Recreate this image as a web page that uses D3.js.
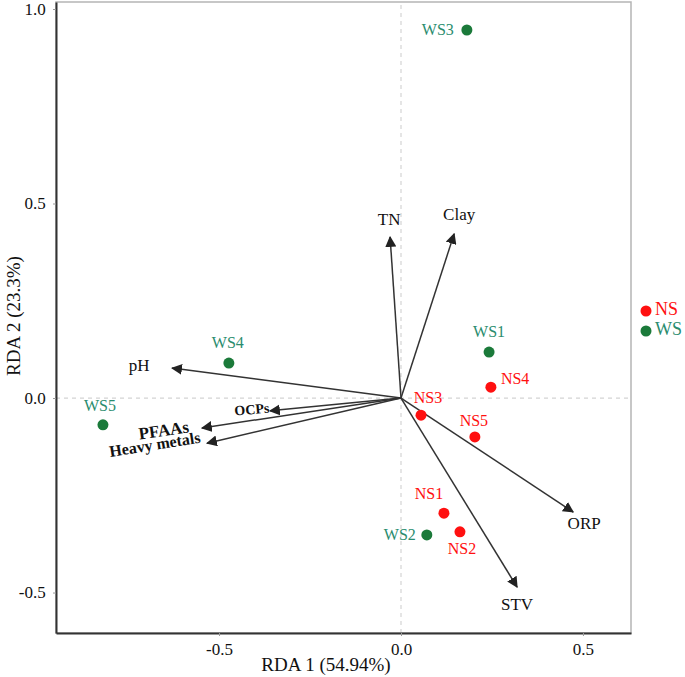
<!DOCTYPE html>
<html><head><meta charset="utf-8">
<script src="https://cdn.jsdelivr.net/npm/d3@7"></script>
<style>body{margin:0;background:#fff}svg{display:block}</style>
</head><body>
<script>
// Sample scores
const sampleNames = ["WS1","WS2","WS3","WS4","WS5","NS1","NS2","NS3","NS4","NS5"];
const sampleGroup = ["WS","WS","WS","WS","WS","NS","NS","NS","NS","NS"];
const sampleX = [0.242, 0.071, 0.181, -0.473, -0.819, 0.118, 0.162, 0.055, 0.247, 0.203];
const sampleY = [0.118, -0.352, 0.946, 0.090, -0.069, -0.296, -0.344, -0.044, 0.028, -0.100];
// Environmental vectors
const envNames = ["TN","Clay","pH","OCPs","PFAAs","Heavy metals","ORP","STV"];
const envX = [-0.030, 0.146, -0.629, -0.360, -0.547, -0.533, 0.473, 0.319];
const envY = [0.414, 0.422, 0.077, -0.033, -0.077, -0.116, -0.293, -0.486];
const xTicks = [-0.5, 0.0, 0.5];
const yTicks = [-0.5, 0.0, 0.5, 1.0];
const groups = ["NS","WS"];

const W = 685, H = 677;
const m = {left:56, right:54, top:2, bottom:44};
const svg = d3.select("body").append("svg").attr("width",W).attr("height",H);
const x = d3.scaleLinear().domain([-0.948, 0.632]).range([m.left, W-m.right]);
const y = d3.scaleLinear().domain([-0.604, 1.018]).range([H-m.bottom, m.top]);
const font = "'Liberation Serif', 'Times New Roman', serif";
const red = "#ff1010", green = "#1b7a3a", greenText = "#2a8c6e";
const fmt = d => d3.format(".1f")(d).replace("\u2212","-");

svg.append("defs").append("marker").attr("id","arr")
  .attr("viewBox","0 0 10 10").attr("refX",9).attr("refY",5)
  .attr("markerWidth",11).attr("markerHeight",11).attr("markerUnits","userSpaceOnUse")
  .attr("orient","auto")
  .append("path").attr("d","M0,0L10,5L0,10Z").attr("fill","#222");

// frame top/right
svg.append("rect").attr("x",x.range()[0]).attr("y",y.range()[1])
  .attr("width",x.range()[1]-x.range()[0]).attr("height",y.range()[0]-y.range()[1])
  .attr("fill","none").attr("stroke","#b5b5b5").attr("stroke-width",1.5);

// dashed zero lines
svg.append("line").attr("x1",x(0)).attr("x2",x(0)).attr("y1",y.range()[0]).attr("y2",y.range()[1])
  .attr("stroke","#d4d4d4").attr("stroke-width",1.2).attr("stroke-dasharray","4,4");
svg.append("line").attr("y1",y(0)).attr("y2",y(0)).attr("x1",x.range()[0]).attr("x2",x.range()[1])
  .attr("stroke","#d4d4d4").attr("stroke-width",1.2).attr("stroke-dasharray","4,4");

// axes
const gx = svg.append("g").attr("transform",`translate(0,${y.range()[0]})`)
  .call(d3.axisBottom(x).tickValues(xTicks).tickFormat(fmt).tickSize(3).tickSizeOuter(0));
const gy = svg.append("g").attr("transform",`translate(${x.range()[0]},0)`)
  .call(d3.axisLeft(y).tickValues(yTicks).tickFormat(fmt).tickSize(3).tickSizeOuter(0));
[gx,gy].forEach(g=>{
  g.select(".domain").attr("stroke","#333").attr("stroke-width",2);
  g.selectAll(".tick line").attr("stroke","#999");
  g.selectAll("text").attr("font-family",font).attr("font-size",17).attr("fill","#111");
});
gx.selectAll("text").attr("dy","0.95em");
gy.selectAll("text").attr("dx","-0.25em");

svg.append("text").attr("x",326).attr("y",671).attr("text-anchor","middle")
  .attr("font-family",font).attr("font-size",19).attr("fill","#111").text("RDA 1 (54.94%)");
svg.append("text").attr("transform","translate(20,316) rotate(-90)").attr("text-anchor","middle")
  .attr("font-family",font).attr("font-size",19).attr("fill","#111").text("RDA 2 (23.3%)");

// arrows
const envIdx = d3.range(envNames.length);
svg.append("g").selectAll("line").data(envIdx).join("line")
  .attr("x1",x(0)).attr("y1",y(0))
  .attr("x2",i=>x(envX[i])).attr("y2",i=>y(envY[i]))
  .attr("stroke","#333").attr("stroke-width",1.5).attr("marker-end","url(#arr)");

// env labels: offsets in px and rotation
const envLab = {
  "TN":{dx:-1,dy:-16,r:0,fs:17},
  "Clay":{dx:5,dy:-18,r:0,fs:17},
  "pH":{dx:-33,dy:-1,r:0,fs:17},
  "OCPs":{dx:-18,dy:0,r:-5,fs:14,bold:true},
  "PFAAs":{dx:-38,dy:4,r:-8,fs:17,bold:true},
  "Heavy metals":{dx:-52,dy:3,r:-9,fs:16,bold:true},
  "ORP":{dx:11,dy:13,r:0,fs:17},
  "STV":{dx:0,dy:19,r:0,fs:17}
};
svg.append("g").selectAll("text").data(envIdx).join("text")
  .attr("transform",i=>{const o=envLab[envNames[i]];return `translate(${x(envX[i])+o.dx},${y(envY[i])+o.dy}) rotate(${o.r})`;})
  .attr("text-anchor","middle").attr("dominant-baseline","middle")
  .attr("font-family",font).attr("font-size",i=>envLab[envNames[i]].fs)
  .attr("font-weight",i=>envLab[envNames[i]].bold?"bold":"normal")
  .attr("fill","#111").text(i=>envNames[i]);

// points
const sIdx = d3.range(sampleNames.length);
svg.append("g").selectAll("circle").data(sIdx).join("circle")
  .attr("cx",i=>x(sampleX[i])).attr("cy",i=>y(sampleY[i])).attr("r",5.5)
  .attr("fill",i=>sampleGroup[i]==="NS"?red:green);

const sLab = {
  "WS1":{dx:0,dy:-19,a:"middle"},"WS2":{dx:-11,dy:1,a:"end"},"WS3":{dx:-13,dy:1,a:"end"},
  "WS4":{dx:-1,dy:-19,a:"middle"},"WS5":{dx:-3,dy:-18,a:"middle"},
  "NS1":{dx:-15,dy:-18,a:"middle"},"NS2":{dx:2,dy:18,a:"middle"},"NS3":{dx:7,dy:-16,a:"middle"},
  "NS4":{dx:10,dy:-7,a:"start"},"NS5":{dx:-1,dy:-15,a:"middle"}
};
svg.append("g").selectAll("text").data(sIdx).join("text")
  .attr("x",i=>x(sampleX[i])+sLab[sampleNames[i]].dx)
  .attr("y",i=>y(sampleY[i])+sLab[sampleNames[i]].dy)
  .attr("text-anchor",i=>sLab[sampleNames[i]].a).attr("dominant-baseline","middle")
  .attr("font-family",font).attr("font-size",16)
  .attr("fill",i=>sampleGroup[i]==="NS"?red:greenText).text(i=>sampleNames[i]);

// legend
const lg = svg.append("g").selectAll("g").data(groups).join("g")
  .attr("transform",(d,i)=>`translate(646,${311+i*20})`);
lg.append("circle").attr("r",5.5).attr("fill",d=>d==="NS"?red:green);
lg.append("text").attr("x",9).attr("dominant-baseline","middle")
  .attr("font-family",font).attr("font-size",18)
  .attr("fill",d=>d==="NS"?red:greenText).text(d=>d);
</script>
</body></html>
